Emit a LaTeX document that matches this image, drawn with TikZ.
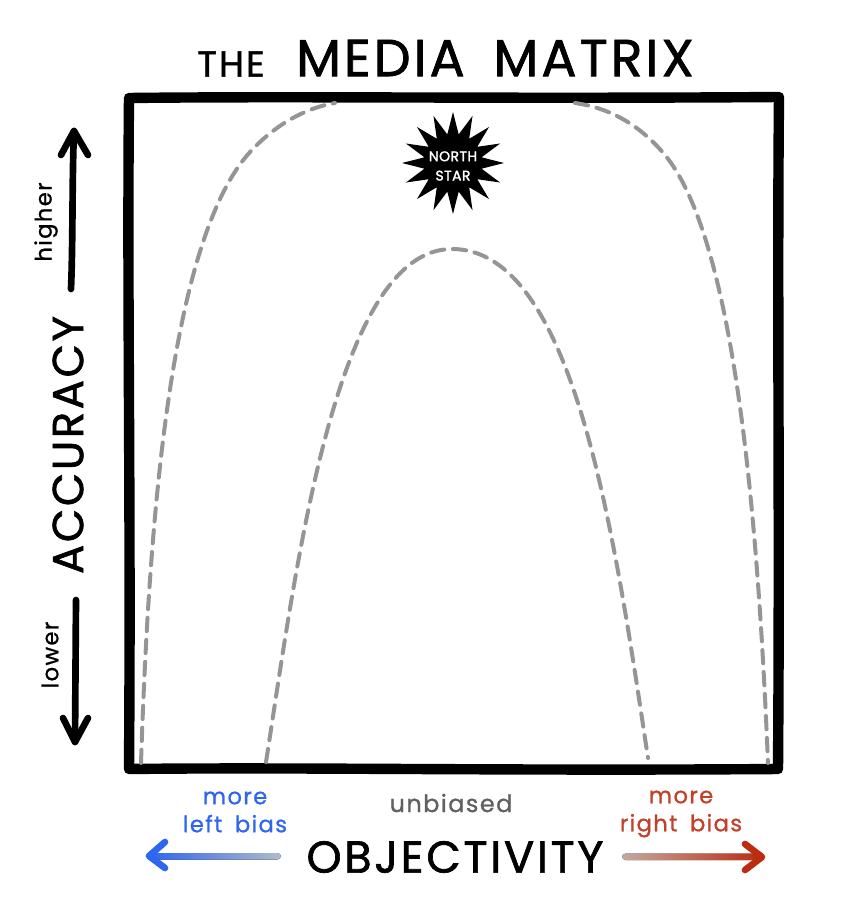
\documentclass[tikz,border=0pt]{standalone}
\usepackage{fontspec}
\setmainfont{Poppins}[LetterSpace=6,FakeBold=1.4,WordSpace=1.7]
\newfontfamily\starfont{Poppins}[LetterSpace=3,FakeBold=1.8]
\newfontfamily\smallfont{Poppins}[LetterSpace=6,FakeBold=0.9,WordSpace=1.7]
\usetikzlibrary{shapes.geometric}
\definecolor{leftblue}{HTML}{2F66F0}
\definecolor{leftfade}{HTML}{B0BACB}
\definecolor{rightred}{HTML}{BC2C10}
\definecolor{rightfade}{HTML}{C4A8A0}
\definecolor{dashgrey}{HTML}{959595}
\tikzset{
  framestroke/.style={line width=7.8pt,line join=round,line cap=round},
  bias/.style={draw=dashgrey,line width=3pt,dash pattern=on 10pt off 6.5pt,line cap=round},
  handarrow/.style={line width=5pt,line cap=round,line join=round},
  lbl/.style={inner sep=0pt,align=center},
}
\begin{document}
\begin{tikzpicture}[x=0.75pt,y=-0.75pt]
\useasboundingbox (0,0) rectangle (841,907);
\fill[white] (0,0) rectangle (841,907);
% frame
\draw[framestroke] (129,98) .. controls (300,96) and (500,99) .. (779,97)
  .. controls (777,300) and (780,500) .. (778,769)
  .. controls (500,771) and (300,767) .. (129,769)
  .. controls (131,500) and (127,300) .. (129,98) -- cycle;
% bias curves
\draw[bias] (141,763) .. controls (149,520) and (170,240) .. (250,152) .. controls (275,125) and (305,108) .. (335,103);
\draw[bias] (575,103) .. controls (610,108) and (640,125) .. (665,155) .. controls (735,240) and (758,520) .. (768,763);
\draw[bias] (266,762) .. controls (296,570) and (335,249) .. (452,249) .. controls (575,249) and (615,540) .. (648,758);
% star
\node[star,star points=16,star point ratio=1.75,fill=black,minimum size=76.5pt,inner sep=0pt] (star) at (453,163) {};
\node[lbl,text=white,font=\fontsize{10.5}{14.5}\selectfont\starfont] (startext) at (453,166) {NORTH\\STAR};
% title
\node[lbl,font=\fontsize{27}{30}\selectfont] (the) at (231,64) {THE};
\node[lbl,font=\fontsize{39}{44}\selectfont] (title) at (495,58) {MEDIA MATRIX};
% accuracy axis
\coordinate (hstart) at (71,289);
\coordinate (hend) at (74,131);
\draw[handarrow] (hstart) .. controls (73,240) and (72,180) .. (hend);
\draw[handarrow] (61,155) -- (hend) -- (88,155);
\coordinate (lstart) at (76,600);
\coordinate (lend) at (75,742);
\draw[handarrow] (lstart) -- (lend);
\draw[handarrow] (63,718) -- (lend) -- (88,718);
\node[lbl,rotate=90,font=\fontsize{17}{20}\selectfont\smallfont] (higher) at (46,222) {higher};
\node[lbl,rotate=90,font=\fontsize{17}{20}\selectfont\smallfont] (lower) at (50,655) {lower};
\node[lbl,rotate=90,font=\fontsize{32.5}{36}\selectfont] (accuracy) at (68,445) {ACCURACY};
% objectivity axis
\node[lbl,font=\fontsize{17}{21}\selectfont\smallfont,text=leftblue] (leftbias) at (235,812) {more\\left bias};
\node[lbl,font=\fontsize{18}{20}\selectfont\smallfont,text=black!62] (unbiased) at (451,803) {unbiased};
\node[lbl,font=\fontsize{17}{21}\selectfont\smallfont,text=rightred!90!white] (rightbias) at (681,814) {more\\right bias};
\node[lbl,font=\fontsize{33.5}{36}\selectfont] (objectivity) at (455,857) {OBJECTIVITY};
\coordinate (le) at (149,856);
\fill[left color=leftblue,right color=leftfade,rounded corners=2.8pt] (150,853) rectangle (281,859.5);
\draw[handarrow,leftblue] (165,842) -- (le) -- (165,868);
\coordinate (re) at (762,857);
\fill[left color=rightfade,right color=rightred,rounded corners=2.8pt] (622,853.5) rectangle (761,860);
\draw[handarrow,rightred] (745,844) -- (re) -- (745,870);
\end{tikzpicture}
\end{document}
